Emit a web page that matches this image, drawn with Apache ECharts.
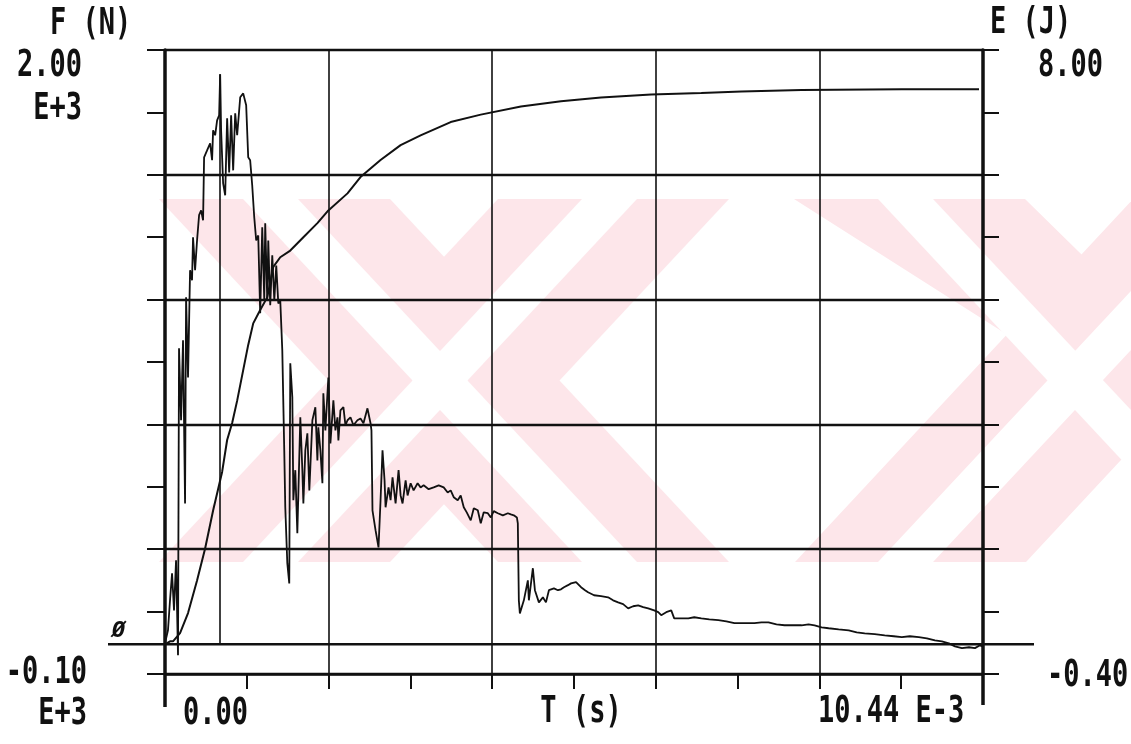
<!DOCTYPE html>
<html>
<head>
<meta charset="utf-8">
<title>F (N) / E (J) - T (s)</title>
<script src="https://cdn.jsdelivr.net/npm/echarts@6/dist/echarts.min.js"></script>
<style>
  html, body { margin: 0; padding: 0; background: #fff; }
  #chart { width: 1131px; height: 744px; }
</style>
</head>
<body>
<div id="chart"></div>
<script>
// axis ranges (time in ms = E-3 s)
const timeRange = [0, 10.44];
const forceRange = [-100, 2000];
const energyRange = [-0.4, 8];
const divisions = 10;

// printed labels
const forceTitle = 'F (N)';
const energyTitle = 'E (J)';
const timeTitle = 'T (s)';
const forceTopLabel = ['2.00', 'E+3'];
const forceBottomLabel = ['-0.10', 'E+3'];
const energyTopLabel = '8.00';
const energyBottomLabel = '-0.40';
const timeStartLabel = '0.00';
const timeEndLabel = '10.44 E-3';
const zeroMark = 'Ø';

// force trace [t (ms), F (N)]
const forceSamples = [
  [0, 3], [0.038, 47], [0.064, 148], [0.090, 239], [0.115, 114], [0.141, 283], [0.166, -37],
  [0.179, 996], [0.205, 754], [0.230, 1023], [0.256, 474], [0.269, 1168], [0.294, 898],
  [0.320, 1259], [0.345, 1225], [0.358, 1370], [0.384, 1259], [0.409, 1359], [0.435, 1444],
  [0.461, 1460], [0.486, 1427], [0.499, 1639], [0.537, 1662], [0.576, 1686], [0.601, 1629],
  [0.614, 1730], [0.640, 1713], [0.665, 1763], [0.691, 1780], [0.704, 1918],
  [0.716, 1730], [0.742, 1551], [0.768, 1511], [0.793, 1770], [0.819, 1588], [0.844, 1780],
  [0.870, 1595], [0.896, 1787], [0.921, 1713], [0.960, 1841], [0.998, 1854], [1.036, 1814],
  [1.062, 1639],
  [1.087, 1629], [1.113, 1545], [1.139, 1437], [1.164, 1359], [1.190, 1376], [1.215, 1114],
  [1.241, 1403], [1.267, 1158], [1.279, 1417], [1.305, 1158], [1.318, 1359], [1.343, 1141],
  [1.369, 1309], [1.395, 1158], [1.420, 1275], [1.446, 1147], [1.471, 1158], [1.497, 989],
  [1.522, 653], [1.535, 461], [1.561, 273], [1.586, 205], [1.599, 946],
  [1.625, 831], [1.638, 485], [1.663, 586], [1.689, 374], [1.727, 764], [1.753, 586],
  [1.766, 474], [1.791, 653], [1.817, 710], [1.842, 518], [1.855, 596], [1.881, 754],
  [1.919, 798], [1.945, 619], [1.957, 730], [1.983, 653], [2.009, 542], [2.021, 845],
  [2.047, 720], [2.085, 898], [2.111, 676], [2.149, 821], [2.175, 720], [2.201, 764],
  [2.213, 686], [2.239, 787], [2.277, 798], [2.303, 737], [2.329, 754], [2.367, 764],
  [2.405, 737], [2.456, 754], [2.495, 760], [2.533, 744], [2.584, 794], [2.623, 744],
  [2.635, 720], [2.648, 451], [2.687, 384], [2.725, 326], [2.751, 485], [2.776, 653],
  [2.802, 552], [2.815, 461], [2.853, 528], [2.879, 485], [2.904, 562], [2.943, 474],
  [2.981, 586], [3.007, 501], [3.032, 474], [3.071, 552], [3.096, 501], [3.135, 542],
  [3.173, 518], [3.224, 542], [3.262, 528], [3.301, 535], [3.365, 522], [3.429, 528],
  [3.493, 535], [3.557, 528], [3.608, 511], [3.646, 518], [3.685, 495], [3.736, 485],
  [3.774, 501], [3.813, 461], [3.851, 444], [3.902, 417], [3.941, 458], [3.992, 451],
  [4.030, 407], [4.068, 444], [4.120, 441], [4.158, 427], [4.196, 448], [4.248, 441],
  [4.312, 434], [4.376, 441], [4.414, 437], [4.452, 434], [4.491, 427], [4.503, 407],
  [4.516, 148], [4.529, 104],
  [4.542, 98], [4.580, 148], [4.631, 215], [4.644, 148], [4.695, 256], [4.721, 182],
  [4.772, 141], [4.823, 158], [4.862, 141], [4.900, 182], [4.964, 188], [5.015, 182],
  [5.054, 185], [5.092, 192], [5.143, 199], [5.182, 205], [5.246, 209], [5.310, 192],
  [5.361, 182], [5.399, 175], [5.476, 165], [5.565, 162], [5.655, 158], [5.719, 148],
  [5.783, 141], [5.847, 135], [5.911, 121], [5.975, 128], [6.039, 131], [6.103, 125],
  [6.167, 121], [6.243, 114], [6.295, 108], [6.333, 98], [6.397, 108], [6.461, 114],
  [6.499, 87], [6.589, 87], [6.679, 87], [6.755, 91], [6.845, 87], [6.947, 84],
  [7.062, 81], [7.165, 77], [7.267, 71], [7.395, 71], [7.523, 71], [7.612, 74],
  [7.702, 74], [7.804, 67], [7.907, 64], [8.022, 64], [8.124, 64], [8.214, 67],
  [8.291, 64], [8.380, 57], [8.470, 54], [8.598, 50], [8.726, 47], [8.828, 40],
  [8.930, 37], [9.058, 34], [9.186, 30], [9.301, 27], [9.404, 24], [9.506, 27],
  [9.621, 24], [9.723, 20], [9.826, 13], [9.915, 10], [10.005, 3], [10.082, -7],
  [10.171, -13], [10.261, -10], [10.337, -13], [10.402, -3], [10.427, -7]
];

// absorbed energy [t (ms), E (J)]
const energySamples = [
  [0, 0], [0.064, 0.04], [0.102, 0.04], [0.192, 0.15], [0.294, 0.42], [0.409, 0.86],
  [0.512, 1.29], [0.614, 1.80], [0.729, 2.32], [0.793, 2.75], [0.857, 2.98], [0.921, 3.28],
  [0.998, 3.69], [1.062, 4.03], [1.126, 4.32], [1.215, 4.50], [1.305, 4.67], [1.382, 5.08],
  [1.471, 5.21], [1.599, 5.30], [1.766, 5.48], [1.945, 5.67], [2.085, 5.84], [2.329, 6.07],
  [2.495, 6.29], [2.751, 6.52], [3.007, 6.72], [3.262, 6.85], [3.646, 7.03], [4.030, 7.13],
  [4.542, 7.24], [5.054, 7.31], [5.565, 7.36], [6.205, 7.40], [6.845, 7.42], [7.357, 7.44],
  [8.124, 7.46], [9.404, 7.47], [10.389, 7.47]
];

const ink = '#111';
const pink = '#fde6ea';
const font = 'bold 27px "DejaVu Sans Mono", monospace';

const peak = forceSamples.reduce((a, b) => (b[1] > a[1] ? b : a));

const chart = echarts.init(document.getElementById('chart'), null, { renderer: 'canvas' });

// division axes: 10 divisions, ticks on every one, grid lines on every second
function divAxis(extra) {
  return Object.assign({
    type: 'value', min: 0, max: divisions, interval: 1,
    axisLabel: { show: false }, splitLine: { show: false },
    axisLine: { show: false }, axisTick: { show: false }
  }, extra);
}

chart.setOption({
  animation: false,
  backgroundColor: '#fff',
  grid: { left: 165, right: 148, top: 50, bottom: 70 },
  xAxis: [
    divAxis({
      position: 'bottom',
      axisLine: { show: true, onZero: false, lineStyle: { color: ink, width: 2.5 } },
      axisTick: { show: true, inside: false, length: 15, lineStyle: { color: ink, width: 2 } }
    }),
    divAxis({
      interval: 2,
      splitLine: { show: true, lineStyle: { color: ink, width: 1.6 } }
    }),
    { type: 'value', min: timeRange[0], max: timeRange[1], show: false }
  ],
  yAxis: [
    divAxis({
      position: 'left',
      axisLine: { show: true, onZero: false, lineStyle: { color: ink, width: 3.5 } },
      axisTick: { show: true, inside: false, length: 18, lineStyle: { color: ink, width: 2 } }
    }),
    divAxis({
      position: 'right',
      axisLine: { show: true, onZero: false, lineStyle: { color: ink, width: 3.5 } },
      axisTick: { show: true, inside: false, length: 16, lineStyle: { color: ink, width: 2 } }
    }),
    divAxis({
      interval: 2,
      splitLine: { show: true, lineStyle: { color: ink, width: 2.4 } }
    }),
    { type: 'value', min: forceRange[0], max: forceRange[1], show: false },
    { type: 'value', min: energyRange[0], max: energyRange[1], show: false }
  ],
  series: [
    {
      name: 'F',
      type: 'line',
      xAxisIndex: 2,
      yAxisIndex: 3,
      data: forceSamples,
      showSymbol: false,
      lineStyle: { color: ink, width: 1.8 },
      markLine: {
        silent: true,
        symbol: 'none',
        label: { show: false },
        lineStyle: { color: ink, width: 1.6, type: 'solid' },
        data: [[{ coord: [peak[0], 0] }, { coord: [peak[0], peak[1]] }]]
      },
      z: 5
    },
    {
      name: 'E',
      type: 'line',
      xAxisIndex: 2,
      yAxisIndex: 4,
      data: energySamples,
      showSymbol: false,
      lineStyle: { color: ink, width: 2 },
      z: 5
    }
  ]
});

// pixel helpers from the chart's own scales
const px = v => chart.convertToPixel({ xAxisIndex: 0 }, v);
const py = v => chart.convertToPixel({ yAxisIndex: 0 }, v);
const zeroY = chart.convertToPixel({ yAxisIndex: 3 }, 0);
const left = px(0), right = px(divisions), bottom = py(0);

function label(text, x, y, align, fnt, sy) {
  return {
    type: 'text', x: x, y: y, scaleY: sy || 1.35, z: 20,
    style: {
      text: text, fill: ink, font: fnt || font,
      textAlign: align, align: align,
      textVerticalAlign: 'middle', verticalAlign: 'middle'
    }
  };
}

function band(pts, color) {
  return { type: 'polygon', z: -100, silent: true, shape: { points: pts }, style: { fill: color } };
}

// watermark behind the plot
const wmTop = 199, wmBot = 562;
const watermark = [
  band([[159, wmTop], [390, wmTop], [729, wmBot], [498, wmBot]], pink),
  band([[498, wmTop], [729, wmTop], [390, wmBot], [159, wmBot]], pink),
  band([[794, wmTop], [1025, wmTop], [1131, 303], [1131, wmBot], [1364, wmBot]], pink),
  band([[1133, wmTop], [1364, wmTop], [1026, wmBot], [795, wmBot]], pink),
  band([[243, wmTop], [298, wmTop], [637, wmBot], [582, wmBot]], '#fff'),
  band([[582, wmTop], [637, wmTop], [298, wmBot], [243, wmBot]], '#fff'),
  band([[878, wmTop], [933, wmTop], [1131, 410], [1131, 470]], '#fff'),
  band([[1217, wmTop], [1272, wmTop], [933, wmBot], [878, wmBot]], '#fff')
];

chart.setOption({
  graphic: watermark.concat([
    // extended frame strokes
    { type: 'line', z: 10, shape: { x1: 108, y1: zeroY, x2: 1034, y2: zeroY }, style: { stroke: ink, lineWidth: 2.6 } },
    { type: 'line', z: 10, shape: { x1: left, y1: bottom, x2: left, y2: bottom + 33 }, style: { stroke: ink, lineWidth: 3.5 } },
    { type: 'line', z: 10, shape: { x1: right, y1: bottom, x2: right, y2: bottom + 31 }, style: { stroke: ink, lineWidth: 3.5 } },
    // texts
    label(forceTitle, 50, 25, 'left'),
    label(forceTopLabel[0], 82, 67, 'right'),
    label(forceTopLabel[1], 82, 110, 'right'),
    label(forceBottomLabel[0], 87, 674, 'right'),
    label(forceBottomLabel[1], 87, 715, 'right'),
    label(energyTitle, 990, 24, 'left'),
    label(energyTopLabel, 1038, 67, 'left'),
    label(energyBottomLabel, 1047, 677, 'left'),
    label(timeStartLabel, 248, 715, 'right'),
    label(timeTitle, 581, 713, 'center'),
    label(timeEndLabel, 818, 713, 'left'),
    label(zeroMark, 112, 631, 'left', 'italic bold 22px "DejaVu Sans Mono", monospace', 1)
  ])
});
</script>
</body>
</html>
